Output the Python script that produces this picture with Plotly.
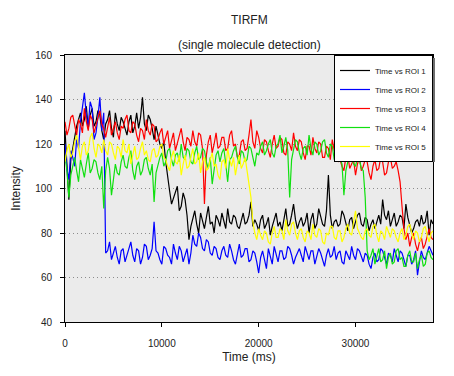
import plotly.graph_objects as go

TIME_MS = [
    0, 200, 400, 600, 800, 1000, 1200, 1400, 1600, 1800,
    2000, 2200, 2400, 2600, 2800, 3000, 3200, 3400, 3600, 3800,
    4000, 4200, 4400, 4600, 4800, 5000, 5200, 5400, 5600, 5800,
    6000, 6200, 6400, 6600, 6800, 7000, 7200, 7400, 7600, 7800,
    8000, 8200, 8400, 8600, 8800, 9000, 9200, 9400, 9600, 9800,
    10000, 10200, 10400, 10600, 10800, 11000, 11200, 11400, 11600, 11800,
    12000, 12200, 12400, 12600, 12800, 13000, 13200, 13400, 13600, 13800,
    14000, 14200, 14400, 14600, 14800, 15000, 15200, 15400, 15600, 15800,
    16000, 16200, 16400, 16600, 16800, 17000, 17200, 17400, 17600, 17800,
    18000, 18200, 18400, 18600, 18800, 19000, 19200, 19400, 19600, 19800,
    20000, 20200, 20400, 20600, 20800, 21000, 21200, 21400, 21600, 21800,
    22000, 22200, 22400, 22600, 22800, 23000, 23200, 23400, 23600, 23800,
    24000, 24200, 24400, 24600, 24800, 25000, 25200, 25400, 25600, 25800,
    26000, 26200, 26400, 26600, 26800, 27000, 27200, 27400, 27600, 27800,
    28000, 28200, 28400, 28600, 28800, 29000, 29200, 29400, 29600, 29800,
    30000, 30200, 30400, 30600, 30800, 31000, 31200, 31400, 31600, 31800,
    32000, 32200, 32400, 32600, 32800, 33000, 33200, 33400, 33600, 33800,
    34000, 34200, 34400, 34600, 34800, 35000, 35200, 35400, 35600, 35800,
    36000, 36200, 36400, 36600, 36800, 37000, 37200, 37400, 37600, 37800,
    38000]

ROI_1 = [
    126, 110, 95, 113, 118, 124, 128, 131, 134, 128,
    131, 137, 127, 133, 136, 128, 130, 135, 133, 126,
    122, 129, 131, 135, 127, 123, 134, 129, 126, 132,
    130, 127, 124, 130, 133, 125, 128, 134, 127, 132,
    141, 129, 126, 133, 131, 127, 122, 128, 124, 120,
    118, 121, 112, 104, 99, 93, 96, 98, 101, 90,
    92, 98, 95, 88, 77, 83, 87, 90, 84, 80,
    89, 86, 82, 87, 92, 84, 85, 80, 88, 86,
    83, 89, 86, 82, 91, 85, 84, 88, 87, 83,
    82, 86, 89, 84, 85, 88, 94, 83, 86, 84,
    81, 86, 88, 82, 84, 87, 79, 83, 86, 89,
    83, 85, 81, 86, 91, 83, 84, 88, 93, 86,
    82, 85, 87, 83, 85, 89, 80, 86, 89, 82,
    84, 91, 87, 84, 83, 90, 106, 88, 82, 85,
    86, 83, 84, 90, 88, 84, 81, 86, 87, 82,
    85, 88, 89, 84, 83, 87, 86, 81, 84, 86,
    82, 85, 88, 84, 95, 88, 86, 90, 83, 86,
    89, 83, 85, 88, 87, 82, 93, 87, 84, 80,
    82, 85, 86, 83, 88, 84, 85, 90, 79, 86,
    84]

ROI_2 = [
    120, 109, 104, 117, 114, 110, 122, 118, 130, 137,
    143, 133, 128, 139, 136, 122, 125, 132, 141, 126,
    134, 71, 72, 76, 68, 71, 74, 69, 66, 72,
    73, 67, 70, 74, 76, 70, 67, 73, 72, 66,
    69, 75, 74, 68, 70, 73, 85, 72, 71, 68,
    66, 74, 73, 70, 69, 66, 75, 71, 68, 74,
    72, 67, 70, 73, 66, 71, 79, 75, 74, 80,
    78, 73, 72, 77, 76, 71, 70, 74, 73, 69,
    68, 72, 74, 70, 69, 75, 72, 68, 66, 71,
    75, 69, 70, 73, 73, 67, 68, 72, 71, 67,
    62, 69, 72, 68, 64, 73, 70, 66, 74, 70,
    67, 72, 72, 68, 69, 74, 73, 70, 66, 69,
    71, 73, 70, 67, 74, 71, 68, 72, 72, 66,
    69, 73, 71, 68, 65, 70, 73, 69, 70, 74,
    68, 71, 72, 67, 66, 72, 70, 68, 74, 70,
    68, 73, 72, 69, 67, 71, 70, 66, 64, 69,
    71, 67, 68, 73, 72, 69, 66, 71, 70, 67,
    73, 70, 67, 72, 71, 68, 65, 70, 70, 66,
    68, 72, 61, 67, 72, 69, 68, 71, 74, 72,
    70]

ROI_3 = [
    130, 124, 127, 132, 133, 128, 124, 131, 129, 125,
    136, 130, 126, 133, 131, 125, 128, 132, 135, 129,
    127, 123, 128, 132, 124, 127, 130, 125, 122, 128,
    127, 131, 133, 126, 125, 130, 129, 124, 121, 127,
    126, 122, 131, 126, 124, 129, 128, 121, 122, 125,
    127, 120, 123, 126, 118, 122, 125, 117, 120, 124,
    127, 121, 117, 123, 122, 119, 126, 121, 119, 125,
    124, 118, 93, 115, 121, 124, 116, 120, 125, 118,
    119, 123, 123, 117, 118, 124, 126, 119, 120, 114,
    115, 121, 122, 117, 118, 124, 131, 121, 118, 126,
    123, 118, 116, 122, 121, 117, 114, 120, 124, 118,
    119, 123, 122, 116, 115, 121, 120, 117, 125, 119,
    117, 122, 121, 116, 113, 119, 119, 115, 123, 118,
    116, 121, 120, 114, 114, 119, 118, 113, 122, 117,
    115, 112, 113, 110, 108, 114, 115, 109, 111, 113,
    106, 111, 114, 108, 110, 113, 112, 107, 104, 110,
    113, 108, 109, 114, 112, 106, 107, 112, 114, 109,
    110, 112, 108, 103, 92, 82, 77, 80, 74, 78,
    80, 75, 72, 76, 78, 73, 75, 79, 82, 78,
    77]

ROI_4 = [
    115, 108, 96, 106, 110, 114, 108, 103, 113, 109,
    105, 111, 116, 107, 109, 113, 112, 107, 104, 110,
    91, 108, 114, 109, 97, 104, 111, 107, 106, 112,
    115, 110, 109, 114, 117, 108, 104, 110, 112, 106,
    108, 113, 114, 109, 106, 111, 94, 107, 111, 114,
    116, 110, 112, 117, 118, 113, 110, 115, 116, 112,
    120, 114, 113, 118, 117, 112, 111, 116, 119, 113,
    114, 118, 117, 112, 109, 114, 102, 110, 115, 117,
    112, 116, 118, 111, 103, 113, 114, 117, 119, 114,
    111, 117, 116, 112, 113, 119, 118, 114, 110, 116,
    115, 119, 121, 115, 117, 120, 122, 116, 114, 119,
    120, 124, 116, 119, 123, 117, 96, 113, 118, 122,
    121, 116, 113, 118, 119, 115, 124, 118, 115, 121,
    120, 115, 117, 121, 122, 116, 114, 120, 119, 113,
    116, 118, 114, 111, 97, 108, 112, 116, 115, 111,
    110, 114, 113, 109, 108, 96, 72, 68, 70, 73,
    66, 70, 73, 67, 68, 72, 64, 69, 71, 66,
    67, 72, 73, 68, 69, 65, 65, 70, 72, 67,
    67, 71, 64, 68, 70, 65, 66, 71, 72, 69,
    68]

ROI_5 = [
    112, 117, 120, 114, 116, 121, 124, 118, 113, 119,
    121, 115, 117, 123, 125, 118, 114, 120, 119, 116,
    122, 117, 115, 121, 120, 116, 113, 119, 118, 114,
    122, 117, 116, 120, 111, 115, 119, 113, 114, 118,
    121, 115, 117, 113, 112, 117, 118, 114, 115, 119,
    120, 114, 113, 110, 108, 114, 117, 112, 111, 115,
    106, 111, 115, 109, 110, 114, 118, 111, 112, 116,
    107, 112, 114, 108, 109, 113, 116, 110, 111, 106,
    104, 112, 113, 109, 118, 113, 110, 114, 106, 111,
    115, 109, 111, 114, 108, 104, 96, 85, 80, 77,
    82, 79, 77, 81, 80, 76, 75, 80, 83, 78,
    78, 82, 81, 77, 86, 81, 79, 84, 85, 80,
    77, 81, 82, 78, 76, 81, 80, 77, 84, 79,
    78, 82, 81, 76, 75, 80, 79, 83, 83, 78,
    77, 81, 81, 76, 78, 82, 84, 80, 79, 85,
    90, 82, 80, 78, 77, 81, 82, 79, 78, 83,
    84, 79, 76, 81, 80, 77, 83, 80, 78, 82,
    81, 78, 76, 80, 82, 77, 79, 83, 84, 80,
    77, 81, 80, 76, 78, 82, 83, 79, 76, 80,
    81]

SERIES_NAMES = ["Time vs ROI 1", "Time vs ROI 2", "Time vs ROI 3",
                "Time vs ROI 4", "Time vs ROI 5"]
X_TICKS = [0, 10000, 20000, 30000]
Y_TICKS = [40, 60, 80, 100, 120, 140, 160]

COLORS = ["#000000", "#0000ff", "#ff0000", "#10e010", "#ffff00"]
FONT = "Liberation Sans, Arial, Helvetica, sans-serif"
TXT = "#222222"

fig = go.Figure()
for name, ys, col in zip(SERIES_NAMES, [ROI_1, ROI_2, ROI_3, ROI_4, ROI_5], COLORS):
    fig.add_trace(go.Scatter(x=TIME_MS, y=ys, mode="lines", name=name,
                             line=dict(color=col, width=1.2)))

# page body has an 8px margin; figure sized so it fills the window
OFF = 8
W, H = 446, 368
ML, MR, MT, MB = 57, 21, 47, 54
PW, PH = W - ML - MR, H - MT - MB


def px(window_x):
    return (window_x - OFF - ML) / PW


def py(window_y):
    return 1 - (window_y - OFF - MT) / PH


fig.update_layout(
    width=W, height=H,
    margin=dict(l=ML, r=MR, t=MT, b=MB, pad=0, autoexpand=False),
    paper_bgcolor="white",
    plot_bgcolor="#ebebeb",
    font=dict(family=FONT, size=10, color=TXT),
    showlegend=True,
    legend=dict(x=1, xanchor="right", y=1, yanchor="top",
                bgcolor="white", bordercolor="#000000", borderwidth=1,
                font=dict(family=FONT, size=8, color=TXT),
                itemwidth=30),
    shapes=[
        dict(type="rect", xref="paper", yref="paper", layer="above",
             x0=px(339), x1=px(435), y0=py(162), y1=py(58),
             fillcolor="#6e6e6e", line=dict(width=0)),
    ],
    annotations=[
        dict(text="TIRFM", xref="paper", yref="paper", x=0.5,
             y=py(20), yanchor="middle", showarrow=False,
             font=dict(family=FONT, size=12, color=TXT)),
        dict(text="(single molecule detection)", xref="paper", yref="paper",
             x=0.5, y=py(45), yanchor="middle", showarrow=False,
             font=dict(family=FONT, size=12, color=TXT)),
    ],
    xaxis=dict(range=[0, 38000], tickvals=X_TICKS, tickformat="d",
               ticks="outside", ticklen=4, tickcolor="#000000",
               showline=True, linecolor="#000000", linewidth=1, mirror=True,
               showgrid=False, zeroline=False, automargin=False,
               tickfont=dict(family=FONT, size=10, color=TXT),
               ticklabelstandoff=8,
               title=dict(text="Time (ms)", standoff=4,
                          font=dict(family=FONT, size=12, color=TXT))),
    yaxis=dict(range=[40, 160], tickvals=Y_TICKS,
               ticks="outside", ticklen=4, tickcolor="#000000",
               showline=True, linecolor="#000000", linewidth=1, mirror=True,
               showgrid=True, gridcolor="#8c8c8c", griddash="1px,3px",
               gridwidth=1, zeroline=False, automargin=False,
               tickfont=dict(family=FONT, size=10, color=TXT),
               ticklabelstandoff=6,
               title=dict(text="Intensity", standoff=12,
                          font=dict(family=FONT, size=12, color=TXT))),
)

fig.write_html("out.html")
